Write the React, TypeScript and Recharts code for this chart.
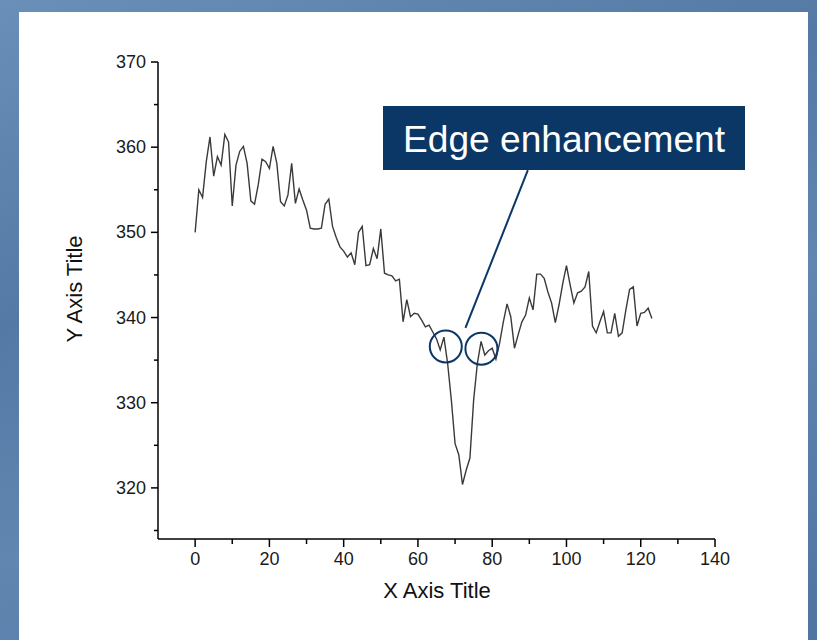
import { LineChart, Line, XAxis, YAxis, ReferenceDot, ReferenceLine } from "recharts";

// signal values, one per x step (x = 0 .. 123)
const signal = [
  350, 355, 354.1, 358.3, 361.2, 356.6, 358.9, 357.9, 361.5, 360.6,
  353.1, 357.9, 359.5, 360.1, 358.1, 353.7, 353.3, 355.6, 358.6, 358.3,
  357.5, 360.1, 358.1, 353.6, 353.1, 354.4, 358.1, 353.4, 355.1, 353.8,
  352.6, 350.5, 350.4, 350.4, 350.5, 353.3, 353.9, 350.7, 349.4, 348.3,
  347.8, 347.1, 347.6, 346.2, 350, 350.7, 346.1, 346.2, 348.1, 346.9,
  350.4, 345.2, 345, 344.9, 344.3, 344.5, 339.5, 342.1, 340.1, 340.5,
  340.4, 339.7, 338.9, 339.1, 338.3, 337.5, 336.2, 337.7, 334.6, 330.3,
  325.2, 323.9, 320.4, 322.1, 323.5, 330.3, 334.6, 337.2, 335.6, 336.1,
  336.4, 335.1, 337, 339.5, 341.6, 340.1, 336.4, 338, 339.5, 340.3,
  342.3, 340.9, 345.1, 345.1, 344.6, 343, 341.7, 339.4, 341.5, 344,
  346.1, 343.8, 341.7, 342.9, 343.1, 343.6, 345.4, 339, 338.2, 339.5,
  340.7, 338.2, 338.2, 340.5, 337.8, 338.2, 340.9, 343.3, 343.6, 339,
  340.5, 340.6, 341.1, 339.9,
];

const xTicks = [0, 10, 20, 30, 40, 50, 60, 70, 80, 90, 100, 110, 120, 130, 140];
const yTicks = [315, 320, 325, 330, 335, 340, 345, 350, 355, 360, 365, 370];

// circled spots and the pointer of the callout
const circles = [
  { x: 67.5, y: 336.6 },
  { x: 77.1, y: 336.35 },
];
const pointer = [
  { x: 89.6, y: 357.3 },
  { x: 72.8, y: 338.8 },
];

const data = signal.map((v, i) => ({ x: i, value: v }));

const FONT = "'Liberation Sans', Arial, sans-serif";
const NAVY = "#0b3767";

function XTick({ x, y, payload }: any) {
  const major = payload.value % 20 === 0;
  return (
    <g>
      <line x1={x} x2={x} y1={y} y2={y + (major ? 8 : 5)} stroke="#000" strokeWidth={1.5} />
      {major && (
        <text x={x} y={y + 26} textAnchor="middle" fontSize={18} fill="#1a1a1a" fontFamily={FONT}>
          {payload.value}
        </text>
      )}
    </g>
  );
}

function YTick({ x, y, payload }: any) {
  const major = payload.value % 10 === 0;
  return (
    <g>
      <line x1={x} x2={x - (major ? 7 : 4)} y1={y} y2={y} stroke="#000" strokeWidth={1.5} />
      {major && (
        <text x={x - 12} y={y + 6} textAnchor="end" fontSize={18} fill="#1a1a1a" fontFamily={FONT}>
          {payload.value}
        </text>
      )}
    </g>
  );
}

export default function App() {
  return (
    <div
      style={{
        position: "absolute",
        left: 0,
        top: 0,
        width: 817,
        height: 640,
        overflow: "hidden",
        background:
          "linear-gradient(160deg, #6a8fb8 0%, #5479a4 35%, #6186b0 60%, #4f74a0 100%)",
      }}
    >
      <div
        style={{
          position: "absolute",
          left: 19,
          top: 12,
          width: 789,
          height: 640,
          background: "#fff",
        }}
      />
      <div style={{ position: "absolute", left: 0, top: 0 }}>
        <LineChart
          width={817}
          height={640}
          data={data}
          margin={{ top: 62, right: 102, bottom: 0, left: 0 }}
        >
          <XAxis
            dataKey="x"
            type="number"
            domain={[-10, 140]}
            ticks={xTicks}
            interval={0}
            height={101}
            tickSize={0}
            tickMargin={0}
            tick={<XTick />}
            axisLine={{ stroke: "#000", strokeWidth: 1.5 }}
            allowDataOverflow
          />
          <YAxis
            type="number"
            domain={[314, 370]}
            ticks={yTicks}
            interval={0}
            width={158}
            tickSize={0}
            tickMargin={0}
            tick={<YTick />}
            axisLine={{ stroke: "#000", strokeWidth: 1.5 }}
            allowDataOverflow
          />
          <Line
            type="linear"
            dataKey="value"
            stroke="#3a3a3a"
            strokeWidth={1.4}
            dot={false}
            isAnimationActive={false}
          />
          <ReferenceLine
            segment={pointer}
            stroke={NAVY}
            strokeWidth={2}
            ifOverflow="visible"
          />
          {circles.map((c, i) => (
            <ReferenceDot
              key={i}
              x={c.x}
              y={c.y}
              r={16}
              fill="none"
              stroke={NAVY}
              strokeWidth={2}
              ifOverflow="visible"
            />
          ))}
        </LineChart>
      </div>
      <svg
        width={817}
        height={640}
        style={{ position: "absolute", left: 0, top: 0, pointerEvents: "none" }}
      >
        <text x={437} y={598} textAnchor="middle" fontSize={22} fill="#111" fontFamily={FONT}>
          X Axis Title
        </text>
        <text
          x={82}
          y={289}
          textAnchor="middle"
          fontSize={22}
          fill="#111"
          fontFamily={FONT}
          transform="rotate(-90 82 289)"
        >
          Y Axis Title
        </text>
        <rect x={383} y={106} width={362} height={64} fill={NAVY} />
        <text
          x={403}
          y={152}
          fontSize={36}
          fill="#fff"
          fontFamily={FONT}
          textLength={322}
          lengthAdjust="spacingAndGlyphs"
        >
          Edge enhancement
        </text>
      </svg>
    </div>
  );
}
